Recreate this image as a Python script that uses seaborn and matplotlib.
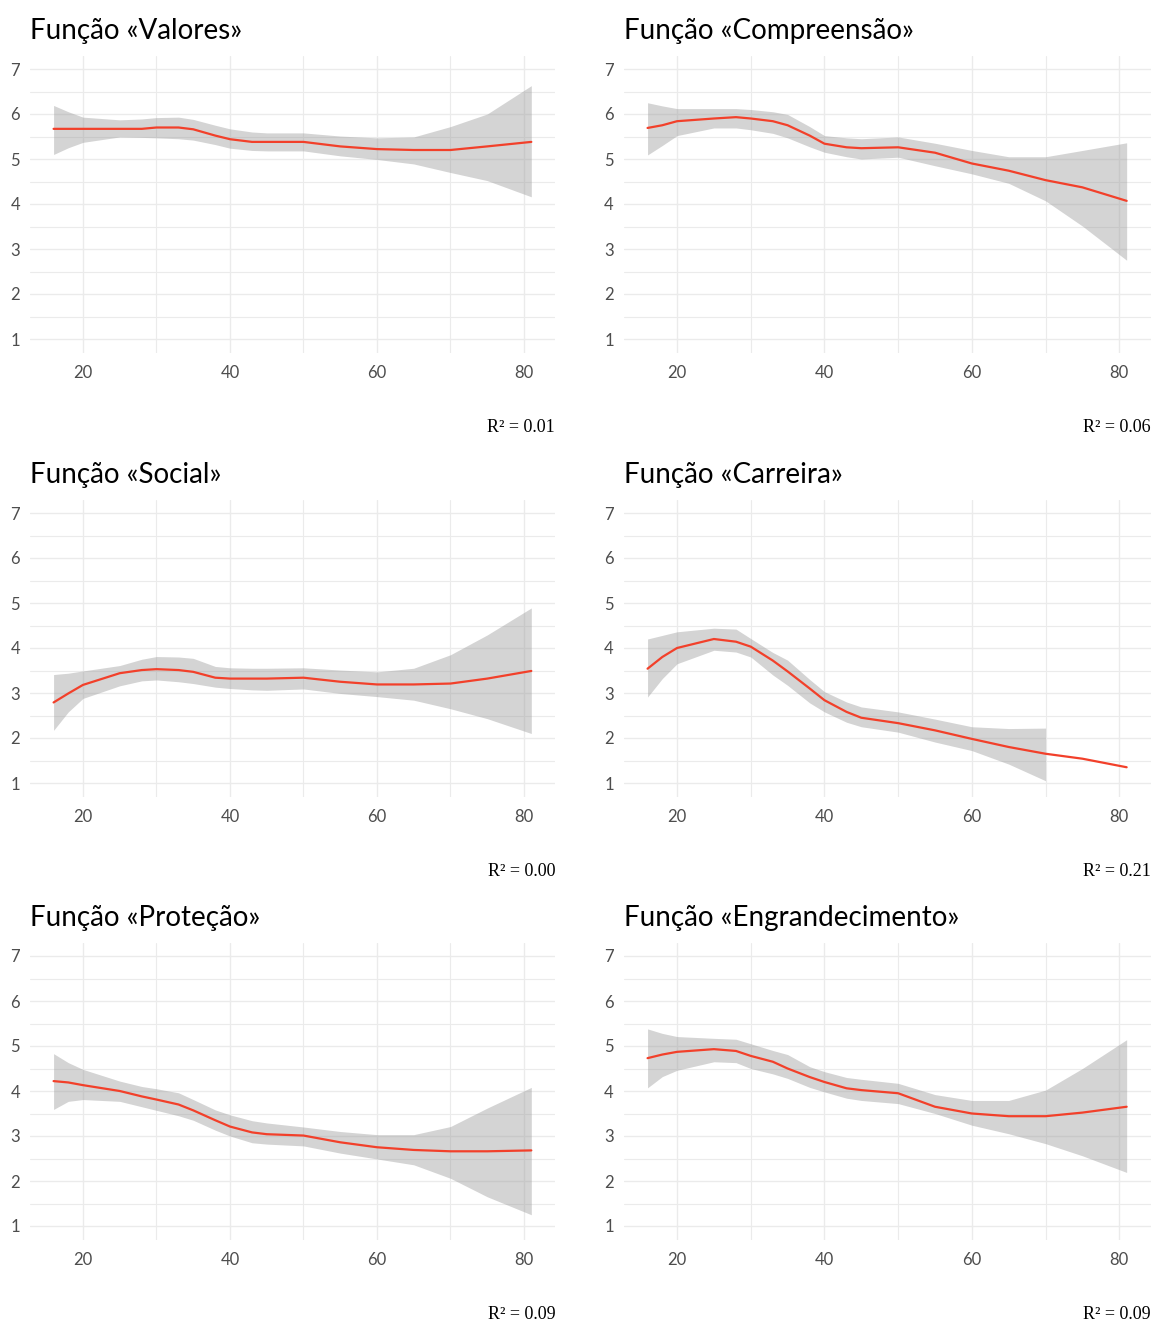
#!/usr/bin/env python3
"""
Six panels: smoothed score by age for each function, with confidence band.
"""

import numpy as np
import pandas as pd
import matplotlib.pyplot as plt
import seaborn as sns

# ------------------------------------------------------------------
# Data
# ------------------------------------------------------------------
age = [16, 18, 20, 25, 28, 30, 33, 35, 38, 40, 43, 45, 50, 55, 60, 65, 70, 75, 81]

titles = ["Função «Valores»", "Função «Compreensão»", "Função «Social»",
          "Função «Carreira»", "Função «Proteção»", "Função «Engrandecimento»"]
r2_labels = ["0.01", "0.06", "0.00", "0.21", "0.09", "0.09"]

valores_fit = [5.67, 5.67, 5.67, 5.67, 5.67, 5.70, 5.70, 5.66, 5.52, 5.44, 5.38, 5.38, 5.38, 5.28, 5.22, 5.20, 5.20, 5.28, 5.38]
valores_hi = [6.19, 6.05, 5.93, 5.87, 5.89, 5.92, 5.93, 5.88, 5.75, 5.67, 5.60, 5.58, 5.58, 5.51, 5.47, 5.49, 5.72, 6.00, 6.63]
valores_lo = [5.10, 5.25, 5.37, 5.49, 5.48, 5.47, 5.45, 5.42, 5.32, 5.24, 5.19, 5.18, 5.18, 5.07, 4.99, 4.89, 4.70, 4.52, 4.16]

compreensao_fit = [5.69, 5.75, 5.84, 5.90, 5.93, 5.90, 5.84, 5.75, 5.52, 5.34, 5.26, 5.24, 5.26, 5.14, 4.90, 4.74, 4.53, 4.37, 4.07]
compreensao_hi = [6.25, 6.18, 6.12, 6.12, 6.12, 6.10, 6.05, 5.99, 5.72, 5.52, 5.47, 5.45, 5.49, 5.35, 5.19, 5.05, 5.05, 5.19, 5.36]
compreensao_lo = [5.09, 5.30, 5.52, 5.69, 5.69, 5.65, 5.57, 5.47, 5.27, 5.15, 5.05, 5.00, 5.04, 4.85, 4.67, 4.46, 4.07, 3.51, 2.75]

social_fit = [2.79, 2.99, 3.18, 3.44, 3.51, 3.53, 3.51, 3.47, 3.34, 3.32, 3.32, 3.32, 3.34, 3.25, 3.19, 3.19, 3.21, 3.32, 3.49]
social_hi = [3.41, 3.44, 3.49, 3.61, 3.75, 3.81, 3.80, 3.77, 3.59, 3.56, 3.55, 3.55, 3.56, 3.51, 3.47, 3.55, 3.85, 4.29, 4.89]
social_lo = [2.17, 2.58, 2.88, 3.16, 3.27, 3.29, 3.25, 3.21, 3.13, 3.10, 3.07, 3.06, 3.09, 2.99, 2.92, 2.84, 2.65, 2.43, 2.10]

carreira_fit = [3.54, 3.80, 4.00, 4.20, 4.14, 4.03, 3.72, 3.48, 3.10, 2.84, 2.58, 2.45, 2.33, 2.17, 1.98, 1.80, 1.65, 1.54, 1.35]
carreira_hi = [4.20, 4.28, 4.36, 4.44, 4.42, 4.21, 3.90, 3.73, 3.30, 3.03, 2.80, 2.69, 2.58, 2.42, 2.25, 2.21, 2.22, np.nan, np.nan]
carreira_lo = [2.91, 3.32, 3.65, 3.95, 3.91, 3.80, 3.40, 3.17, 2.78, 2.58, 2.35, 2.25, 2.13, 1.91, 1.72, 1.42, 1.05, np.nan, np.nan]

protecao_fit = [4.22, 4.19, 4.13, 4.00, 3.88, 3.81, 3.70, 3.57, 3.35, 3.21, 3.08, 3.04, 3.01, 2.86, 2.75, 2.69, 2.66, 2.66, 2.68]
protecao_hi = [4.83, 4.63, 4.48, 4.22, 4.10, 4.05, 3.96, 3.81, 3.58, 3.47, 3.34, 3.29, 3.20, 3.10, 3.03, 3.03, 3.21, 3.62, 4.08]
protecao_lo = [3.59, 3.77, 3.81, 3.77, 3.65, 3.57, 3.45, 3.35, 3.13, 3.00, 2.85, 2.82, 2.78, 2.62, 2.49, 2.36, 2.06, 1.65, 1.25]

engrand_fit = [4.73, 4.81, 4.87, 4.93, 4.89, 4.78, 4.65, 4.50, 4.31, 4.20, 4.06, 4.02, 3.95, 3.65, 3.50, 3.44, 3.44, 3.52, 3.65]
engrand_hi = [5.38, 5.28, 5.21, 5.17, 5.15, 5.05, 4.90, 4.81, 4.54, 4.43, 4.30, 4.26, 4.17, 3.92, 3.79, 3.79, 4.02, 4.50, 5.14]
engrand_lo = [4.07, 4.32, 4.46, 4.65, 4.63, 4.50, 4.38, 4.28, 4.08, 3.98, 3.84, 3.79, 3.72, 3.50, 3.24, 3.05, 2.83, 2.56, 2.19]

fits = [valores_fit, compreensao_fit, social_fit, carreira_fit, protecao_fit, engrand_fit]
his = [valores_hi, compreensao_hi, social_hi, carreira_hi, protecao_hi, engrand_hi]
los = [valores_lo, compreensao_lo, social_lo, carreira_lo, protecao_lo, engrand_lo]

# ------------------------------------------------------------------
# Style
# ------------------------------------------------------------------
sns.set_theme(style="white")
plt.rcParams["font.family"] = ["Lato", "DejaVu Sans"]

fig = plt.figure(figsize=(11.53, 13.25), dpi=100)

W, H = 1153, 1325
col_left = [29.7, 623.6]
col_width = [525.5, 527.0]
row_top = [55.5, 499.5, 942.5]
panel_h = 297.0

for i, title in enumerate(titles):
    r, c = divmod(i, 2)
    ax = fig.add_axes([col_left[c] / W, 1 - (row_top[r] + panel_h) / H,
                       col_width[c] / W, panel_h / H])

    df = pd.DataFrame({"age": age, "fit": fits[i], "lo": los[i], "hi": his[i]})
    ax.fill_between(df["age"], df["lo"], df["hi"], color="#999999", alpha=0.42,
                    linewidth=0, zorder=2)
    sns.lineplot(data=df, x="age", y="fit", ax=ax, color="#F2402A",
                 linewidth=1.6, zorder=3)

    ax.set_xlim(12.75, 84.25)
    ax.set_ylim(0.7, 7.3)
    ax.set_xticks([20, 40, 60, 80])
    ax.set_xticks([30, 50, 70], minor=True)
    ax.set_yticks([1, 2, 3, 4, 5, 6, 7])
    ax.set_yticks([1.5, 2.5, 3.5, 4.5, 5.5, 6.5], minor=True)
    ax.grid(which="major", color="#EBEBEB", linewidth=1.0)
    ax.grid(which="minor", color="#EBEBEB", linewidth=0.8)
    ax.set_axisbelow(True)
    for s in ax.spines.values():
        s.set_visible(False)
    ax.tick_params(axis="both", which="both", length=0, labelsize=12,
                   labelcolor="#4D4D4D")
    ax.tick_params(axis="x", pad=9)
    ax.tick_params(axis="y", pad=7)
    ax.set_xlabel("")
    ax.set_ylabel("")

    ax.set_title(title, loc="left", fontsize=20, color="black", pad=12)
    ax.text(1.0, -0.254, f"R² = {r2_labels[i]}", transform=ax.transAxes,
            ha="right", va="center", fontsize=13, color="black",
            family=["Liberation Serif", "DejaVu Serif"])

plt.savefig("out.png", dpi=100)
plt.close()
